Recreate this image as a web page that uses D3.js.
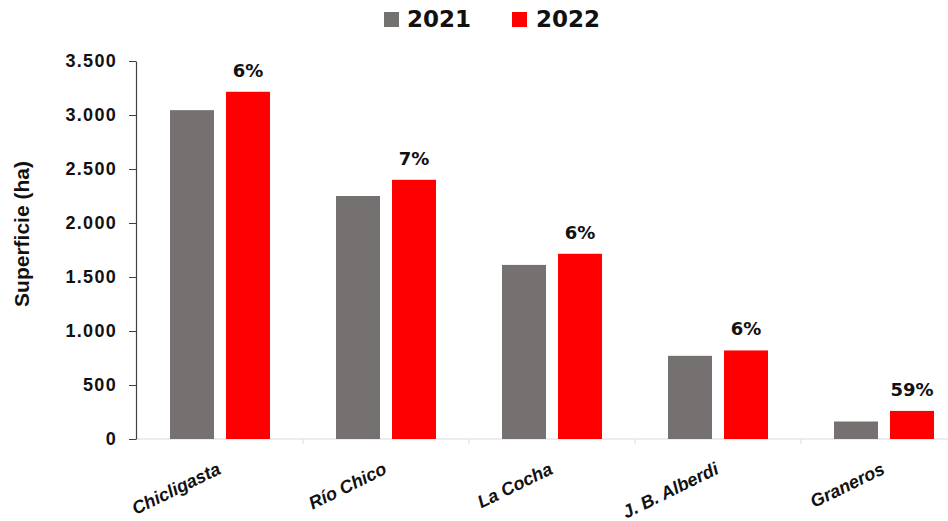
<!DOCTYPE html>
<html><head><meta charset="utf-8">
<script src="https://cdn.jsdelivr.net/npm/d3@7"></script>
<style>body{margin:0;background:#fff}</style>
</head><body>
<svg id="c" width="948" height="521"></svg>
<script>
const categories = ["Chicligasta","Río Chico","La Cocha","J. B. Alberdi","Graneros"];
const series = ["2021","2022"];
const values2021 = [3045, 2250, 1612, 770, 162];
const values2022 = [3215, 2400, 1715, 820, 260];
const changeLabels = ["6%","7%","6%","6%","59%"];
const yTicks = [0,500,1000,1500,2000,2500,3000,3500];
const colors = ["#767171","#FF0000"];

const svg = d3.select("#c");
const y = d3.scaleLinear().domain([0,3500]).range([439,61]);
const axX = 136;
const x = d3.scaleBand().domain(categories).range([137,967]).paddingInner(0).paddingOuter(0);
const font = "'Liberation Sans', Arial, sans-serif";
const heavy = "'DejaVu Sans', sans-serif";

// x axis line (light)
svg.append("line").attr("x1",axX).attr("x2",948).attr("y1",y(0)).attr("y2",y(0))
  .attr("stroke","#d9d9d9").attr("stroke-width",1.2);
categories.slice(1).forEach(c=>{
  svg.append("line").attr("x1",x(c)).attr("x2",x(c)).attr("y1",y(0)).attr("y2",y(0)+5)
    .attr("stroke","#d9d9d9");
});

// y axis
const yAxis = d3.axisLeft(y).tickValues(yTicks).tickSize(7).tickSizeOuter(0).tickPadding(12)
  .tickFormat(d=>d3.format(",")(d).replace(/,/g,"."));
const ya = svg.append("g").attr("transform",`translate(${axX},0)`).call(yAxis);
ya.select(".domain").attr("stroke","#404040").attr("stroke-width",1.2);
ya.selectAll(".tick line").attr("stroke","#404040");
ya.selectAll("text").attr("font-family",font).attr("font-weight","bold").attr("font-size",18)
  .attr("letter-spacing","1.3px").attr("fill","#111");

// y title
svg.append("text").attr("transform","translate(29,234) rotate(-90)").attr("text-anchor","middle")
  .attr("font-family",font).attr("font-weight","bold").attr("font-size",21).attr("fill","#111").text("Superficie (ha)");

// bars
const bw = 44, gap = 12;
const data = categories.map((c,i)=>({c, v:[values2021[i],values2022[i]], lab:changeLabels[i]}));
const g = svg.append("g");
data.forEach(d=>{
  const cx = x(d.c)+x.bandwidth()/2;
  d.v.forEach((v,j)=>{
    const x0 = j===0 ? cx-gap/2-bw : cx+gap/2;
    g.append("rect").attr("x",x0).attr("width",bw).attr("y",y(v)).attr("height",y(0)-y(v)).attr("fill",colors[j]);
  });
  g.append("text").attr("x",cx+gap/2+bw/2).attr("y",y(d.v[1])-15).attr("text-anchor","middle")
    .attr("font-family",heavy).attr("font-weight","bold").attr("font-size",18).attr("fill","#111").text(d.lab);
  svg.append("text").attr("transform",`translate(${cx+2},${473}) rotate(-26)`).attr("text-anchor","end")
    .attr("font-family",font).attr("font-style","italic").attr("font-weight","bold").attr("font-size",18)
    .attr("fill","#111").text(d.c);
});

// legend
const leg = [{x:384,tx:407},{x:512,tx:536}];
series.forEach((s,i)=>{
  svg.append("rect").attr("x",leg[i].x).attr("y",12).attr("width",15).attr("height",15).attr("fill",colors[i]);
  svg.append("text").attr("x",leg[i].tx).attr("y",27).attr("font-family",heavy).attr("font-weight","bold")
    .attr("font-size",23).attr("fill","#111").text(s);
});
</script>
</body></html>
